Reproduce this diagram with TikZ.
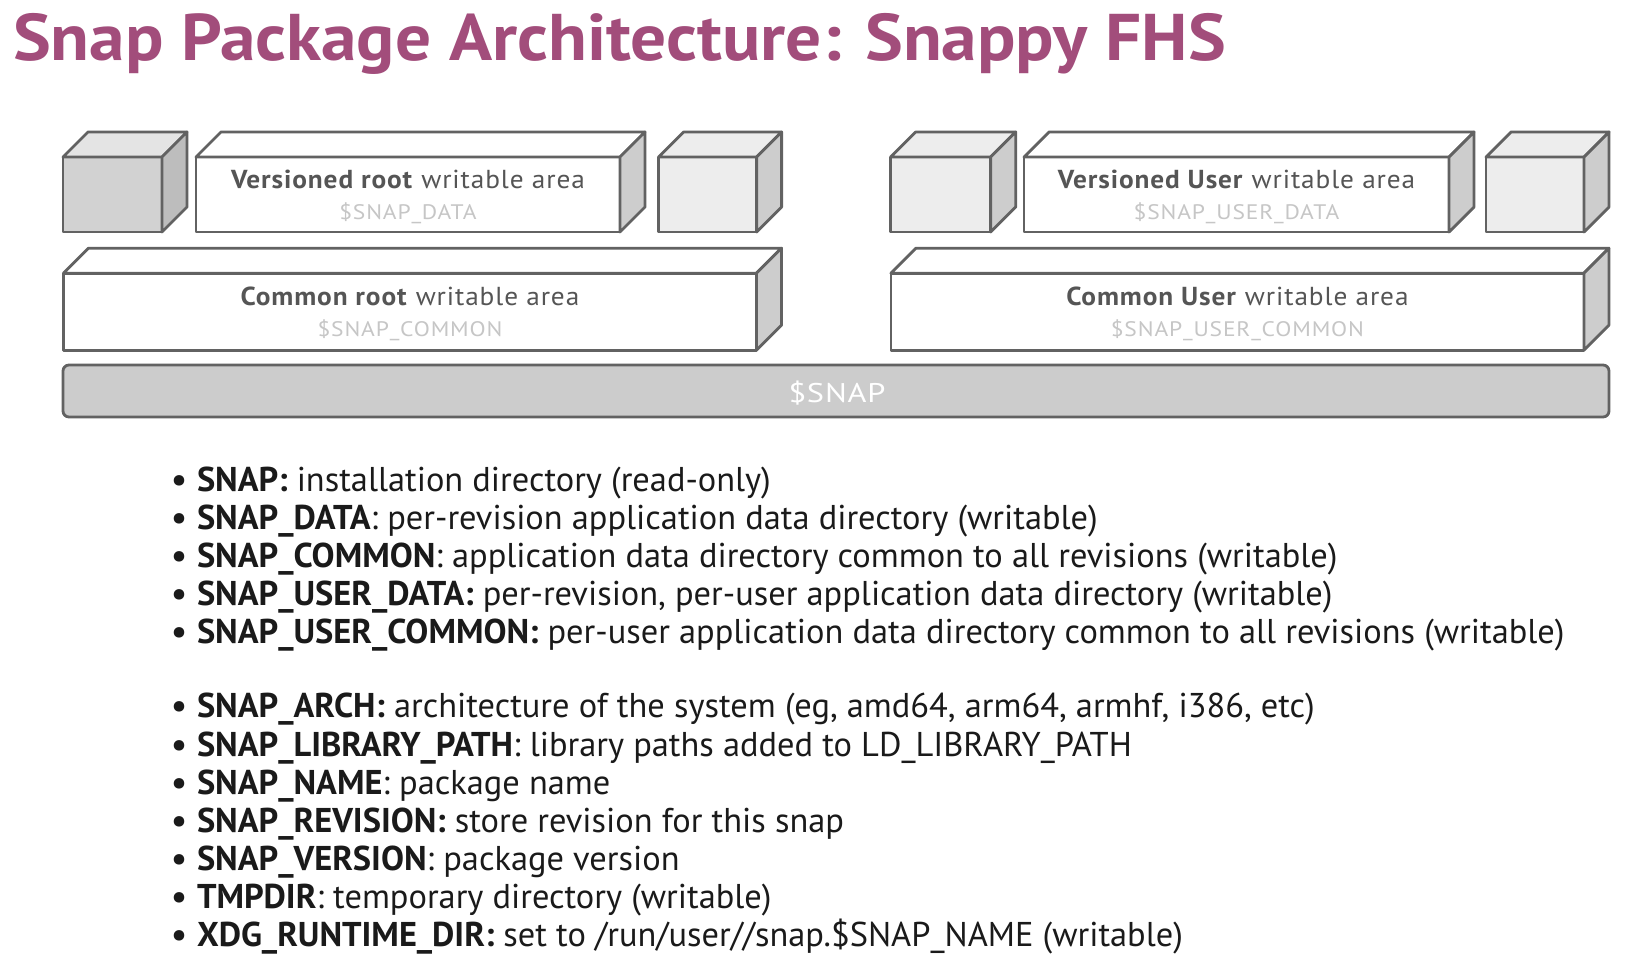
\documentclass[tikz,border=0pt]{standalone}
\usepackage{fontspec}
\setmainfont{PT Sans}
\newfontfamily\titlef[FakeStretch=1.08]{PT Sans}
\newfontfamily\boxf[FakeStretch=1.05,LetterSpace=3.5]{PT Sans}
\newfontfamily\varf[FakeStretch=1.12,LetterSpace=4]{PT Sans}
\newfontfamily\barf[FakeStretch=1.2,LetterSpace=3]{PT Sans}
\usetikzlibrary{calc}
\definecolor{ttl}{HTML}{A24D7B}
\definecolor{edge}{HTML}{626262}
\definecolor{lbl}{HTML}{555555}
\definecolor{varc}{HTML}{C6C6C6}
\definecolor{bodytxt}{HTML}{1A1A1A}
\definecolor{cubeA}{HTML}{D2D2D2}
\definecolor{cubeB}{HTML}{EDEDED}
\definecolor{topA}{HTML}{E4E4E4}
\definecolor{sideA}{HTML}{BDBDBD}
\definecolor{sideB}{HTML}{CDCDCD}
\definecolor{barfill}{HTML}{CCCCCC}
\newcommand\cuboidfaces[3]{%
  \draw[face, fill=#2] (#1.north west) -- ++(25,-25) -- ($(#1.north east)+(25,-25)$) -- (#1.north east) -- cycle;
  \draw[face, fill=#3] (#1.north east) -- ++(25,-25) -- ($(#1.south east)+(25,-25)$) -- (#1.south east) -- cycle;}
\begin{document}
\begin{tikzpicture}[x=1pt,y=-1pt,
  face/.style={draw=edge, line width=2.8pt, line join=round},
  front/.style={face, rectangle, inner sep=0pt, outer sep=0pt, minimum height=75pt},
  boxlbl/.style={anchor=base, inner sep=0pt, outer sep=0pt, text=lbl, font=\boxf\fontsize{26}{30}\selectfont},
  varlbl/.style={anchor=base, inner sep=0pt, outer sep=0pt, text=varc, font=\varf\fontsize{21}{25}\selectfont},
  bul/.style={anchor=base, inner sep=0pt, outer sep=0pt, text=bodytxt, font=\fontsize{34.3}{40}\selectfont\bfseries},
  itm/.style={anchor=base west, inner sep=0pt, outer sep=0pt, text=bodytxt, font=\fontsize{34.4}{40}\selectfont}]
\useasboundingbox[fill=white] (0,0) rectangle (1651,970);

% title
\node[anchor=base west, inner sep=0pt, text=ttl, font=\titlef\fontsize{66}{70}\selectfont\bfseries] (title) at (13,60) {Snap Package Architecture: Snappy FHS};

% left group
\node[front, fill=cubeA, minimum width=99pt] (c1) at (112.5,194.5) {};
\cuboidfaces{c1}{topA}{sideA}
\node[front, fill=white, minimum width=424pt] (vr) at (408,194.5) {};
\cuboidfaces{vr}{white}{sideB}
\node[front, fill=cubeB, minimum width=98pt] (c3) at (707.6,194.5) {};
\cuboidfaces{c3}{cubeB}{sideB}
\node[front, fill=white, minimum width=693pt, minimum height=77pt] (cr) at (410,311.7) {};
\cuboidfaces{cr}{white}{sideB}

% right group
\node[front, fill=cubeB, minimum width=100pt] (c4) at (940.7,194.5) {};
\cuboidfaces{c4}{cubeB}{sideB}
\node[front, fill=white, minimum width=425pt] (vu) at (1236.5,194.5) {};
\cuboidfaces{vu}{white}{sideB}
\node[front, fill=cubeB, minimum width=98pt] (c6) at (1535,194.5) {};
\cuboidfaces{c6}{cubeB}{sideB}
\node[front, fill=white, minimum width=693pt, minimum height=77pt] (cu) at (1237.4,311.7) {};
\cuboidfaces{cu}{white}{sideB}

% labels
\node[boxlbl] (vrt) at ($(vr.center)+(0,-6.5)$) {\textbf{Versioned root} writable area};
\node[varlbl] (vrv) at ($(vr.center)+(0,25)$) {\$SNAP\_DATA};
\node[boxlbl] (crt) at ($(cr.center)+(0,-6.5)$) {\textbf{Common root} writable area};
\node[varlbl] (crv) at ($(cr.center)+(0,25)$) {\$SNAP\_COMMON};
\node[boxlbl] (vut) at ($(vu.center)+(0,-6.5)$) {\textbf{Versioned User} writable area};
\node[varlbl] (vuv) at ($(vu.center)+(0,25)$) {\$SNAP\_USER\_DATA};
\node[boxlbl] (cut) at ($(cu.center)+(0,-6.5)$) {\textbf{Common User} writable area};
\node[varlbl] (cuv) at ($(cu.center)+(0,25)$) {\$SNAP\_USER\_COMMON};

% $SNAP bar
\node[draw=edge, line width=2.8pt, fill=barfill, rounded corners=6pt, minimum width=1546pt, minimum height=52pt, inner sep=0pt, outer sep=0pt] (bar) at (836,391) {};
\node[anchor=base, inner sep=0pt, text=white, font=\barf\fontsize{27}{30}\selectfont] (bart) at ($(bar.center)+(1,11.5)$) {\$SNAP};

% bullet list
\node[bul] (b1) at (179,491) {•};
\node[itm] (t1) at (197,491) {\textbf{SNAP:} installation directory (read-only)};
\node[bul] (b2) at (179,529) {•};
\node[itm] (t2) at (197,529) {\textbf{SNAP\_DATA}: per-revision application data directory (writable)};
\node[bul] (b3) at (179,567) {•};
\node[itm] (t3) at (197,567) {\textbf{SNAP\_COMMON}: application data directory common to all revisions (writable)};
\node[bul] (b4) at (179,605) {•};
\node[itm] (t4) at (197,605) {\textbf{SNAP\_USER\_DATA:} per-revision, per-user application data directory (writable)};
\node[bul] (b5) at (179,643) {•};
\node[itm] (t5) at (197,643) {\textbf{SNAP\_USER\_COMMON:} per-user application data directory common to all revisions (writable)};

\node[bul] (b6) at (179,717.5) {•};
\node[itm] (t6) at (197,717.5) {\textbf{SNAP\_ARCH:} architecture of the system (eg, amd64, arm64, armhf, i386, etc)};
\node[bul] (b7) at (179,756.5) {•};
\node[itm] (t7) at (197,756.5) {\textbf{SNAP\_LIBRARY\_PATH}: library paths added to LD\_LIBRARY\_PATH};
\node[bul] (b8) at (179,794.5) {•};
\node[itm] (t8) at (197,794.5) {\textbf{SNAP\_NAME}: package name};
\node[bul] (b9) at (179,832) {•};
\node[itm] (t9) at (197,832) {\textbf{SNAP\_REVISION:} store revision for this snap};
\node[bul] (b10) at (179,870) {•};
\node[itm] (t10) at (197,870) {\textbf{SNAP\_VERSION}: package version};
\node[bul] (b11) at (179,908) {•};
\node[itm] (t11) at (197,908) {\textbf{TMPDIR}: temporary directory (writable)};
\node[bul] (b12) at (179,946) {•};
\node[itm] (t12) at (197,946) {\textbf{XDG\_RUNTIME\_DIR:} set to /run/user//snap.\$SNAP\_NAME (writable)};
\end{tikzpicture}
\end{document}
